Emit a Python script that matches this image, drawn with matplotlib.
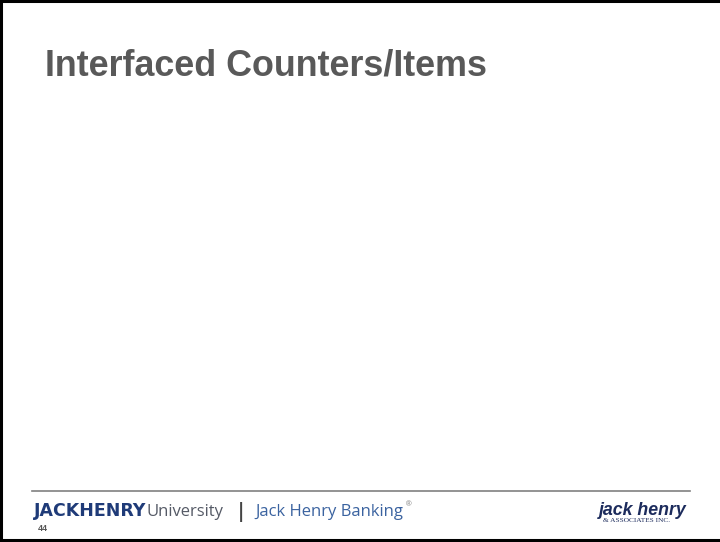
import matplotlib.pyplot as plt
from matplotlib.lines import Line2D

W, H = 720, 542

title = "Interfaced Counters/Items"
brand_bold = "JACKHENRY"
brand_light = "University"
separator = "|"
product = "Jack Henry Banking"
page_no = "44"
logo_main = "jack henry"
logo_sub = "& ASSOCIATES INC."

plt.rcParams['font.family'] = ['Liberation Sans', 'DejaVu Sans']

fig = plt.figure(figsize=(W / 100, H / 100), dpi=100)
fig.patch.set_facecolor('white')


def px(x, y):
    return x / W, 1 - y / H


# slide border (left, top, bottom)
for xs, ys in [([1, 1], [0, 541]), ([0, 720], [1, 1]), ([0, 720], [540, 540])]:
    fig.add_artist(Line2D([x / W for x in xs], [1 - y / H for y in ys],
                          color='black', lw=2.2))

# title
fig.text(*px(45, 75), title, fontsize=25.8, fontweight='bold',
         color='#595959', ha='left', va='baseline')

# footer rule
fig.add_artist(Line2D([32 / W, 690 / W], [1 - 491 / H] * 2, color='#808080', lw=1.2))

# footer texts
fig.text(*px(34, 515.5), brand_bold, fontsize=12.5, fontweight='heavy',
         color='#1f3b78', ha='left', va='baseline', family='DejaVu Sans')
fig.text(*px(147, 515.5), brand_light, fontsize=12, color='#555a66',
         ha='left', va='baseline', family='Open Sans')
fig.text(*px(236, 517), separator, fontsize=13.5, fontweight='bold', color='#444444',
         ha='left', va='baseline', family='Open Sans')
fig.text(*px(255, 515.5), product, fontsize=12, color='#3b63a0',
         ha='left', va='baseline', family='Open Sans')
fig.text(*px(406, 506), "®", fontsize=5.5, color='#777777',
         ha='left', va='baseline')
fig.text(*px(38, 531), page_no, fontsize=6.5, fontweight='bold',
         color='#555555', ha='left', va='baseline')

# logo
fig.text(*px(599, 515), logo_main, fontsize=12.8, fontweight='heavy',
         style='italic', color='#1c2b5c', ha='left', va='baseline')
fig.text(*px(603, 521.5), logo_sub, fontsize=5.3, color='#1c2b5c',
         ha='left', va='baseline', family='Liberation Serif')

fig.savefig('out.png', dpi=100)
